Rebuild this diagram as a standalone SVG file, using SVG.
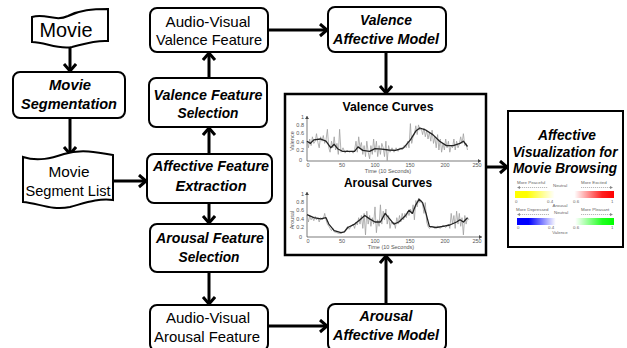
<svg xmlns="http://www.w3.org/2000/svg" width="627" height="348" viewBox="0 0 627 348">
<style>
.box{fill:#fff;stroke:#000;stroke-width:2}
.t{font-family:"Liberation Sans",Arial,sans-serif;text-anchor:middle;fill:#000}
.n{font-size:14.5px}
.bi{font-size:15px;font-weight:bold;font-style:italic}
.av{font-size:15.5px;font-weight:bold;font-style:italic}
.conn line{stroke:#000;stroke-width:3;marker-end:url(#ah)}
.ax{stroke:#444;stroke-width:0.7;fill:none}
.tk{font-family:"Liberation Sans",Arial,sans-serif;font-size:5.5px;fill:#555}
.lg{font-family:"Liberation Sans",Arial,sans-serif;font-size:4.4px;fill:#666}
.ld{stroke:#888;stroke-width:0.6;stroke-dasharray:1.2 0.8;fill:none}
</style>
<defs>
<marker id="ah" markerUnits="userSpaceOnUse" markerWidth="14" markerHeight="16" refX="9" refY="7" orient="auto">
<path d="M2,1 L9,7 L2,13" fill="none" stroke="#000" stroke-width="3"/>
</marker>
<marker id="sa" markerUnits="userSpaceOnUse" markerWidth="6" markerHeight="6" refX="3" refY="2" orient="auto">
<path d="M0,0 L3,2 L0,4 Z" fill="#444"/>
</marker>
<linearGradient id="gA" x1="0" x2="1" y1="0" y2="0">
<stop offset="0" stop-color="#ffff00"/><stop offset="0.12" stop-color="#ffff00"/><stop offset="0.4" stop-color="#ffffff"/><stop offset="0.6" stop-color="#ffffff"/><stop offset="0.88" stop-color="#ff2020"/><stop offset="1" stop-color="#ff0000"/>
</linearGradient>
<linearGradient id="gV" x1="0" x2="1" y1="0" y2="0">
<stop offset="0" stop-color="#0000ff"/><stop offset="0.12" stop-color="#0000ff"/><stop offset="0.4" stop-color="#ffffff"/><stop offset="0.6" stop-color="#ffffff"/><stop offset="0.88" stop-color="#20ff20"/><stop offset="1" stop-color="#00ff00"/>
</linearGradient>
</defs>
<rect width="627" height="348" fill="#fff"/>

<g id="connectors" class="conn">
<line x1="70" y1="46" x2="70" y2="71"/>
<line x1="70" y1="118" x2="70" y2="154"/>
<line x1="113" y1="181" x2="146" y2="181"/>
<line x1="209" y1="154" x2="209" y2="128"/>
<line x1="209" y1="78" x2="209" y2="53"/>
<line x1="209" y1="203" x2="209" y2="223"/>
<line x1="209" y1="272" x2="209" y2="304"/>
<line x1="268" y1="30" x2="327" y2="30"/>
<line x1="268" y1="326" x2="327" y2="326"/>
<line x1="386" y1="52" x2="386" y2="93"/>
<line x1="386" y1="304" x2="386" y2="256"/>
<line x1="486" y1="167" x2="507" y2="167"/>
</g>

<g id="movie">
<path class="box" d="M32,17 C46,13 55,22 68,16 C80,10 92,9 108,9 L108,41 C95,40 84,44 72,47 C58,50 45,42 32,42 Z"/>
<text class="t" x="66" y="37" font-size="21" textLength="53" lengthAdjust="spacingAndGlyphs">Movie</text>
</g>

<g id="movie-segmentation">
<rect class="box" x="13" y="72" width="112" height="46" rx="7"/>
<text class="t bi" x="70" y="90" textLength="42" lengthAdjust="spacingAndGlyphs">Movie</text>
<text class="t bi" x="69" y="109" textLength="96" lengthAdjust="spacingAndGlyphs">Segmentation</text>
</g>

<g id="movie-segment-list">
<path class="box" d="M23,157 C38,162 52,158 64,154 C80,149 97,152 113,155 L113,200 C98,198 85,203 70,207 C52,211 38,203 23,202 Z"/>
<text class="t n" x="69" y="177" textLength="41" lengthAdjust="spacingAndGlyphs">Movie</text>
<text class="t n" x="68" y="196" textLength="85" lengthAdjust="spacingAndGlyphs">Segment List</text>
</g>

<g id="affective-feature-extraction">
<rect class="box" x="147" y="154" width="125" height="49" rx="7"/>
<text class="t bi" x="211" y="171" textLength="116" lengthAdjust="spacingAndGlyphs">Affective Feature</text>
<text class="t bi" x="211" y="191" textLength="71" lengthAdjust="spacingAndGlyphs">Extraction</text>
</g>

<g id="valence-feature-selection">
<rect class="box" x="149" y="78" width="118" height="49" rx="7"/>
<text class="t bi" x="208" y="100" textLength="109" lengthAdjust="spacingAndGlyphs">Valence Feature</text>
<text class="t bi" x="208" y="118" textLength="61" lengthAdjust="spacingAndGlyphs">Selection</text>
</g>

<g id="av-valence-feature">
<rect class="box" x="150" y="8" width="118" height="44" rx="7"/>
<text class="t n" x="208" y="27" textLength="85" lengthAdjust="spacingAndGlyphs">Audio-Visual</text>
<text class="t n" x="209" y="45" textLength="106" lengthAdjust="spacingAndGlyphs">Valence Feature</text>
</g>

<g id="arousal-feature-selection">
<rect class="box" x="150" y="224" width="118" height="48" rx="7"/>
<text class="t bi" x="210" y="243" textLength="108" lengthAdjust="spacingAndGlyphs">Arousal Feature</text>
<text class="t bi" x="209" y="262" textLength="61" lengthAdjust="spacingAndGlyphs">Selection</text>
</g>

<g id="av-arousal-feature">
<rect class="box" x="150" y="305" width="118" height="46" rx="7"/>
<text class="t n" x="208" y="323" textLength="84" lengthAdjust="spacingAndGlyphs">Audio-Visual</text>
<text class="t n" x="207" y="342" textLength="106" lengthAdjust="spacingAndGlyphs">Arousal Feature</text>
</g>

<g id="valence-affective-model">
<rect class="box" x="328" y="7" width="118" height="45" rx="7"/>
<text class="t bi" x="386" y="25" textLength="52" lengthAdjust="spacingAndGlyphs">Valence</text>
<text class="t bi" x="386" y="44" textLength="106" lengthAdjust="spacingAndGlyphs">Affective Model</text>
</g>

<g id="arousal-affective-model">
<rect class="box" x="328" y="304" width="118" height="47" rx="7"/>
<text class="t bi" x="386" y="321" textLength="53" lengthAdjust="spacingAndGlyphs">Arousal</text>
<text class="t bi" x="386" y="340" textLength="106" lengthAdjust="spacingAndGlyphs">Affective Model</text>
</g>

<g id="curves">
<rect x="285" y="94" width="201" height="161" fill="#fff" stroke="#000" stroke-width="2.5"/>
<text class="t" x="388" y="111" font-size="13" font-weight="bold" fill="#111" textLength="91" lengthAdjust="spacingAndGlyphs">Valence Curves</text>
<line class="ax" x1="307" y1="161" x2="307" y2="116" marker-end="url(#sa)"/>
<line class="ax" x1="307" y1="161" x2="481" y2="161" marker-end="url(#sa)"/>
<g class="tk" text-anchor="end">
<text x="304" y="119">1</text><text x="304" y="127">0.8</text><text x="304" y="135">0.6</text><text x="304" y="144">0.4</text><text x="304" y="152">0.2</text><text x="302" y="162">0</text>
</g>
<g class="tk" text-anchor="middle">
<text x="308" y="167">0</text><text x="342" y="167">50</text><text x="375" y="167">100</text><text x="410" y="167">150</text><text x="445" y="167">200</text><text x="477" y="167">250</text>
<text x="388" y="173">Time (10 Seconds)</text>
<text transform="translate(294,141) rotate(-90)">Valence</text>
</g>
<polyline fill="none" stroke="#a0a0a0" stroke-width="0.8" points="307,141.2 308.4,147.8 309.7,139 311.1,145.6 312.4,136.8 313.8,143.4 315.2,141.2 316.5,133.7 317.9,142.5 319.2,147.8 320.6,136.8 322,141.2 323.3,135.5 324.7,143.4 326,139.9 327.4,129.3 328.8,147.8 330.1,152.2 331.5,141.2 332.8,147.8 334.2,136.8 335.6,150 336.9,143.4 338.3,154.4 339.6,129.3 341,152.2 343,147.8 345.1,153.1 347.1,150 349.2,152.2 351.2,151.3 353.2,153.1 354.6,150 356,141.2 357.3,152.2 358.7,136.8 360,147.8 361.4,142.5 362.8,154.4 364.1,145.6 365.5,156.6 366.8,141.2 368.2,152.2 369.6,158.8 370.9,145.6 372.3,154.4 373.6,139 375,152.2 376.4,141.2 377.7,156.6 379.1,145.6 380.4,154.4 381.8,143.4 383.2,147.8 384.5,156.6 385.9,141.2 387.2,161 388.6,145.6 390,152.2 392,147.8 394,152.2 396.1,147.8 398.1,151.3 400.2,147.8 402.2,150 404.2,145.6 406.3,147.8 407.6,141.2 409,147.8 410.4,123.6 411.7,143.4 413.1,136.8 414.4,134.6 415.8,125.8 417.2,134.6 418.5,124.9 419.9,130.2 421.2,128 422.6,134.6 424,128 425.3,136.8 426.7,130.2 428,139 429.4,132.4 430.8,141.2 432.1,130.2 433.5,143.4 434.8,136.8 436.2,147.8 437.6,134.6 438.9,150 440.3,139 441.6,152.2 443,143.4 444.4,150 445.7,139 447.1,147.8 448.4,141.2 449.8,152.2 451.2,145.6 452.5,147.8 453.9,139 455.2,150 456.6,141.2 458,147.8 459.3,144.3 460.7,136.8 462,143.4 463.4,133.7 464.8,145.6 466.1,143.4 467.5,150"/>
<polyline fill="none" stroke="#222" stroke-width="1.3" stroke-linejoin="round" points="307,141.2 310.4,143.4 313.8,139.9 320.6,139 326,141.2 330.8,147.8 334.2,144.3 337.6,148.7 342.4,151.3 349.2,151.3 354.6,151.3 358,146.9 362.8,150.4 369.6,151.3 375,148.7 381.8,149.1 388.6,150 395.4,150.4 403.6,147.8 410.4,139.9 415.8,131.1 419.9,128 426,130.2 432.8,134.6 439.6,141.2 446.4,145.6 453.2,145.6 460,143.4 463.4,141.2 467.5,146.5"/>

<text class="t" x="388" y="187" font-size="13" font-weight="bold" fill="#111" textLength="88" lengthAdjust="spacingAndGlyphs">Arousal Curves</text>
<line class="ax" x1="307" y1="237" x2="307" y2="192" marker-end="url(#sa)"/>
<line class="ax" x1="307" y1="237" x2="482" y2="237" marker-end="url(#sa)"/>
<g class="tk" text-anchor="end">
<text x="304" y="196">1</text><text x="304" y="204">0.8</text><text x="304" y="212">0.6</text><text x="304" y="221">0.4</text><text x="304" y="229">0.2</text><text x="302" y="239">0</text>
</g>
<g class="tk" text-anchor="middle">
<text x="308" y="243">0</text><text x="342" y="243">50</text><text x="375" y="243">100</text><text x="410" y="243">150</text><text x="445" y="243">200</text><text x="477" y="243">250</text>
<text x="391" y="249">Time (10 Seconds)</text>
<text transform="translate(294,220) rotate(-90)">Arousal</text>
</g>
<polyline fill="none" stroke="#a0a0a0" stroke-width="0.8" points="307,215.5 308.4,222 309.7,215.5 311.1,219.8 312.4,217.7 313.8,220.7 315.2,216.4 316.5,219.8 317.9,217.7 319.2,222 320.6,217.7 322,219.8 323.3,218.9 324.7,213.4 326,219.8 327.4,224.1 328.8,226.3 330.1,228.4 331.5,230.6 332.8,228.4 334.2,231.8 336.9,232.7 339.6,233.6 342.4,232.7 345.1,230.6 346.4,228.4 347.8,226.3 349.2,229.3 351.2,226.3 353.2,224.1 354.6,228.4 356,222 357.3,225 358.7,217.7 360,224.1 361.4,215.5 362.8,228.4 364.1,213.4 365.5,234.9 366.8,211.2 368.2,224.1 369.6,215.5 370.9,226.3 372.3,217.7 373.6,224.1 375,206.9 376.4,232.7 377.7,219.8 379.1,226.3 380.4,204.8 381.8,224.1 383.2,211.2 384.5,219.8 385.9,209.1 387.2,224.1 388.6,215.5 390,228.4 391.3,222 392.7,224.1 394,222 395.4,228.4 396.8,217.7 398.1,224.1 399.5,215.5 400.8,222 402.2,213.4 403.6,219.8 404.9,213.4 406.3,217.7 407.6,211.2 409,215.5 410.4,209.1 411.7,213.4 413.1,204.8 414.4,219.8 415.8,200.5 417.2,206.9 418.5,198.3 419.9,202.6 421.2,200.5 422.6,204.8 424,213.4 425.3,202.6 426.7,222 428,226.3 429.4,228.4 432.1,226.3 434.8,228.4 437.6,226.3 440.3,228.4 443,225 445.7,227.5 448.4,224.1 449.8,228.4 451.2,213.4 452.5,224.1 453.9,215.5 455.2,228.4 456.6,211.2 458,224.1 459.3,213.4 460.7,226.3 462,217.7 463.4,234.9 464.8,215.5 466.1,224.1 467.5,217.7 468.8,219.8"/>
<polyline fill="none" stroke="#222" stroke-width="1.3" stroke-linejoin="round" points="307,214.6 313.8,217.7 320.6,218.9 326,217.7 328.8,224.1 334.2,230.6 341,232.7 344.4,231.8 347.8,227.5 354.6,224.1 360,219.8 364.8,215.5 369.6,218.9 375,222 380.4,222 385.2,213.4 388.6,217.7 394,224.1 398.8,222 405.6,215.5 409,210.3 412.4,213.4 415.8,204.8 419.2,199.2 422.6,202.6 426,213.4 429.4,226.3 436.2,227.5 443,226.3 449.8,225 456.6,222 460,219.8 463.4,222 467.5,217.7"/>
</g>

<g id="affective-visualization">
<rect x="508" y="111" width="115" height="136" fill="#fff" stroke="#000" stroke-width="2"/>
<text class="t av" x="567" y="140" textLength="58" lengthAdjust="spacingAndGlyphs">Affective</text>
<text class="t av" x="565" y="156.5" textLength="105" lengthAdjust="spacingAndGlyphs">Visualization for</text>
<text class="t av" x="565" y="172.5" textLength="104" lengthAdjust="spacingAndGlyphs">Movie Browsing</text>
<text class="lg" x="517" y="184">More Peaceful</text>
<text class="lg" x="553" y="187">Neutral</text>
<text class="lg" x="581" y="184">More Excited</text>
<path class="ld" d="M520,187.5 H548 M581,187.5 H610"/>
<path d="M517,187.5 L520,186 L520,189 Z M613,187.5 L610,186 L610,189 Z" fill="#888"/>
<rect x="515" y="191" width="99" height="7" fill="url(#gA)"/>
<text class="lg" x="515" y="202.5">0</text><text class="lg" x="547" y="202.5">0.4</text><text class="lg" x="573" y="202.5">0.6</text><text class="lg" x="611" y="202.5">1</text>
<text class="lg" x="560" y="207" text-anchor="middle">Arousal</text>
<text class="lg" x="516" y="211">More Depressed</text>
<text class="lg" x="554" y="214">Neutral</text>
<text class="lg" x="581" y="211">More Pleasant</text>
<path class="ld" d="M520,214.5 H549 M581,214.5 H610"/>
<path d="M517,214.5 L520,213 L520,216 Z M613,214.5 L610,213 L610,216 Z" fill="#888"/>
<rect x="517" y="218" width="97" height="7" fill="url(#gV)"/>
<text class="lg" x="517" y="229">0</text><text class="lg" x="548" y="229">0.4</text><text class="lg" x="573" y="229">0.6</text><text class="lg" x="611" y="229">1</text>
<text class="lg" x="560" y="233.5" text-anchor="middle">Valence</text>
</g>
</svg>
